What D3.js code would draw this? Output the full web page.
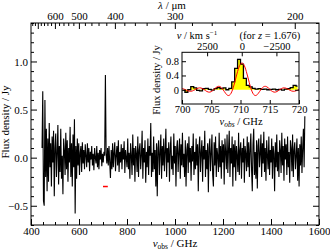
<!DOCTYPE html>
<html><head><meta charset="utf-8">
<script src="https://cdn.jsdelivr.net/npm/d3@7"></script>
<style>
body{margin:0;background:#fff}
svg{display:block}
text{font-family:"Liberation Serif","DejaVu Serif",serif;fill:#000}
</style>
</head><body>
<svg id="c" width="330" height="250"></svg>
<script>
// ---- data ----
const specStart = 446;      // GHz, first channel
const specStep = 3;         // GHz per channel
const specFlux = [
 0.10, 0.69,-0.45,-0.50, 0.60,-0.20, 0.30,-0.35, 0.20,
-0.25, 0.36,-0.10, 0.15,-0.30, 0.22,-0.05, 0.28,-0.40, 0.10,
 0.25,-0.20, 0.05, 0.34,-0.28, 0.12,-0.15, 0.30,-0.22, 0.02,
-0.38, 0.20, 0.08,-0.18, 0.26,-0.12, 0.18,-0.25, 0.10,-0.05,
 0.32,-0.20, 0.15,-0.30, 0.24,-0.10, 0.40,-0.58, 0.12,-0.22,
 0.20,-0.08, 0.15,-0.18, 0.05, 0.12,-0.15, 0.16,-0.06, 0.08,
-0.12, 0.14, 0.02,-0.10, 0.15,-0.05, 0.10,-0.14, 0.06,-0.02,
 0.12,-0.08, 0.04,-0.13, 0.10, 0.00,-0.06, 0.12,-0.10, 0.05,
-0.12, 0.08,-0.02, 0.10,-0.09, 0.04,-0.05, 0.06, 0.02, 0.86,
 0.04,-0.06, 0.10,-0.08, 0.12,-0.05,-0.21, 0.08,-0.12, 0.15,
-0.10, 0.05, 0.16,-0.14, 0.02, 0.12,-0.08, 0.18,-0.15, 0.06,
-0.05, 0.14,-0.12, 0.10,-0.02, 0.17,-0.16, 0.08, 0.00,-0.10,
 0.20,-0.12, 0.05,-0.22, 0.15, 0.02,-0.18, 0.24,-0.08, 0.10,
-0.25, 0.12, 0.04,-0.15, 0.22,-0.20, 0.08, 0.15,-0.12, 0.02,
 0.28,-0.22, 0.10,-0.05, 0.18,-0.26, 0.06,-0.10, 0.20,-0.18,
 0.12, 0.02, 0.36,-0.20, 0.05,-0.15, 0.22,-0.12, 0.08,-0.30,
 0.15,-0.40, 0.10, 0.18,-0.18, 0.05, 0.24,-0.22, 0.12,-0.08,
 0.20,-0.14, 0.06, 0.30,-0.20, 0.10,-0.05, 0.16,-0.25, 0.08,
 0.22,-0.12, 0.02,-0.18, 0.25,-0.06, 0.12,-0.30, 0.10, 0.18,
-0.15, 0.06, 0.20,-0.22, 0.14,-0.08, 0.26,-0.10, 0.04,-0.20,
 0.18,-0.30, 0.08, 0.15,-0.16, 0.22,-0.05, 0.10,-0.24, 0.12,
-0.04, 0.25,-0.18, 0.06,-0.12, 0.20,-0.08, 0.14,-0.35, 0.10,
 0.22,-0.15, 0.05, 0.18,-0.25, 0.12,-0.02, 0.28,-0.20, 0.08,
-0.12, 0.15,-0.36, 0.10, 0.20,-0.14, 0.04, 0.24,-0.18,-0.30,
 0.16,-0.08, 0.22,-0.20, 0.10, 0.02,-0.15, 0.26,-0.10, 0.12,
-0.22, 0.18,-0.05, 0.14,-0.28, 0.20, 0.06,-0.12, 0.24,-0.16,
 0.08, 0.28,-0.20, 0.10,-0.06, 0.22,-0.30, 0.14,-0.10, 0.18,
-0.24, 0.12, 0.02,-0.15, 0.26,-0.18, 0.08, 0.16,-0.22, 0.10,
-0.05, 0.20,-0.26, 0.12, 0.04,-0.14, 0.22,-0.10, 0.16,-0.20,
 0.08, 0.25,-0.12,-0.35, 0.14, 0.30,-0.18, 0.06,-0.22, 0.18,
-0.32, 0.12, 0.20,-0.10, 0.04, 0.24,-0.20, 0.15,-0.06, 0.27,
-0.15, 0.10,-0.24, 0.18, 0.02,-0.12, 0.22,-0.18, 0.08,-0.05,
 0.20,-0.22, 0.12, 0.04,-0.35, 0.16,-0.10, 0.24,-0.14, 0.06,
-0.20, 0.18, 0.08,-0.16, 0.26,-0.08, 0.12,-0.24, 0.20,-0.02,
 0.14,-0.18, 0.22,-0.10, 0.06,-0.26, 0.18, 0.10,-0.14, 0.24,
-0.20, 0.08, 0.16,-0.12, 0.02, 0.20,-0.24, 0.10,-0.30, 0.14,
-0.08, 0.22,-0.16, 0.10, 0.30,-0.10, 0.43
];

const insetChanStart = 700, insetChanWidth = 0.5;
const insetFlux = [
-0.02,-0.07, 0.00, 0.09, 0.05,-0.02,-0.03, 0.03, 0.04, 0.01,
-0.01, 0.03, 0.06, 0.03, 0.05, 0.00, 0.04, 0.22, 0.60, 0.85,
 0.72, 0.32, 0.12, 0.08, 0.04, 0.02, 0.03, 0.01, 0.02, 0.00,
 0.01, 0.02, 0.00, 0.01,-0.01, 0.02, 0.03, 0.06, 0.12, 0.10
];

const modelStart = 700, modelStep = 0.25;
const modelFlux = [
 0.034, 0.024, 0.007,-0.012,-0.030,-0.041,-0.043,-0.035,-0.018, 0.005,
 0.027, 0.045, 0.053, 0.049, 0.032, 0.007,-0.022,-0.049,-0.065,-0.067,
-0.053,-0.025, 0.013, 0.052, 0.082, 0.096, 0.088, 0.057, 0.007,-0.053,
-0.111,-0.152,-0.162,-0.133,-0.059, 0.054, 0.199, 0.357, 0.510, 0.637,
 0.721, 0.750, 0.721, 0.637, 0.510, 0.357, 0.199, 0.054,-0.059,-0.133,
-0.162,-0.152,-0.111,-0.053, 0.007, 0.057, 0.088, 0.096, 0.082, 0.052,
 0.013,-0.025,-0.053,-0.067,-0.065,-0.049,-0.022, 0.007, 0.032, 0.049,
 0.053, 0.045, 0.027, 0.005,-0.018,-0.035,-0.043,-0.041,-0.030,-0.012,
 0.007
];

const markerRange = [700, 720], markerLevel = -0.3;

const xTicks = [400, 600, 800, 1000, 1200, 1400, 1600];
const xMinor = [450, 500, 550, 650, 700, 750, 850, 900, 950, 1050, 1100, 1150, 1250, 1300, 1350, 1450, 1500, 1550];
const yTicks = [-0.5, 0.0, 0.5, 1.0];
const yMinor = [-0.7, -0.6, -0.4, -0.3, -0.2, -0.1, 0.1, 0.2, 0.3, 0.4, 0.6, 0.7, 0.8, 0.9, 1.1, 1.2, 1.3, 1.4];
const lambdaMajor = [700, 600, 500, 400, 300, 200];
const lambdaLabels = [600, 500, 400, 300, 200];
const lambdaMinor = [740, 720, 680, 660, 640, 620, 580, 560, 540, 520, 480, 460, 440, 420, 380, 360, 340, 320, 280, 260, 240, 220];
const insetXTicks = [700, 705, 710, 715, 720];
const insetYTicks = [0, 0.4, 0.8];
const velTicks = [2500, 0, -2500];
const cKms = 299792.458;           // km/s  (also um*GHz)
const restFreq = 1900.537, redshift = 1.676;

// ---- chart ----
const svg = d3.select('#c');
const L = 31, R = 319, T = 23, B = 225;
const x = d3.scaleLinear().domain([400, 1600]).range([L, R]);
const y = d3.scaleLinear().domain([-0.7, 1.4]).range([B, T]);

svg.append('clipPath').attr('id', 'mclip').append('rect')
  .attr('x', L).attr('y', T).attr('width', R - L).attr('height', B - T);

svg.append('path').datum(specFlux)
  .attr('clip-path', 'url(#mclip)')
  .attr('fill', 'none').attr('stroke', '#000').attr('stroke-width', 1.1)
  .attr('d', d3.line().x((d, i) => x(specStart + i * specStep)).y(d => y(d)));

svg.append('line')
  .attr('x1', x(markerRange[0])).attr('x2', x(markerRange[1]))
  .attr('y1', y(markerLevel)).attr('y2', y(markerLevel))
  .attr('stroke', '#ff0000').attr('stroke-width', 1.5);

function styleAxis(g, fs) {
  g.select('.domain').remove();
  g.selectAll('line').attr('stroke', '#000').attr('stroke-width', 1);
  g.selectAll('text').attr('font-size', fs).attr('font-family', '"Liberation Serif",serif').attr('fill', '#000');
}
const MJ = 6, MN = 3;
const fmt1 = d3.format('.1f');

// bottom
svg.append('g').attr('transform', `translate(0,${B})`)
  .call(d3.axisBottom(x).tickValues(xTicks).tickSize(-MJ).tickPadding(2).tickFormat(d3.format('d')))
  .call(g => styleAxis(g, 11));
svg.append('g').attr('transform', `translate(0,${B})`)
  .call(d3.axisBottom(x).tickValues(xMinor).tickSize(-MN).tickFormat(''))
  .call(g => styleAxis(g, 11));
// left
svg.append('g').attr('transform', `translate(${L},0)`)
  .call(d3.axisLeft(y).tickValues(yTicks).tickSize(-MJ).tickPadding(3).tickFormat(fmt1))
  .call(g => styleAxis(g, 11));
svg.append('g').attr('transform', `translate(${L},0)`)
  .call(d3.axisLeft(y).tickValues(yMinor).tickSize(-MN).tickFormat(''))
  .call(g => styleAxis(g, 11));
// right
svg.append('g').attr('transform', `translate(${R},0)`)
  .call(d3.axisRight(y).tickValues(yTicks).tickSize(-MJ).tickFormat(''))
  .call(g => styleAxis(g, 11));
svg.append('g').attr('transform', `translate(${R},0)`)
  .call(d3.axisRight(y).tickValues(yMinor).tickSize(-MN).tickFormat(''))
  .call(g => styleAxis(g, 11));
// top (wavelength)
const lamToNu = l => cKms / l;
svg.append('g').attr('transform', `translate(0,${T})`)
  .call(d3.axisTop(x).tickValues(lambdaMajor.map(lamToNu)).tickSize(-MJ).tickPadding(3)
    .tickFormat(d => { const l = Math.round(cKms / d); return lambdaLabels.includes(l) ? String(l) : ''; }))
  .call(g => styleAxis(g, 11));
svg.append('g').attr('transform', `translate(0,${T})`)
  .call(d3.axisTop(x).tickValues(lambdaMinor.map(lamToNu)).tickSize(-MN).tickFormat(''))
  .call(g => styleAxis(g, 11));

svg.append('rect').attr('x', L).attr('y', T).attr('width', R - L).attr('height', B - T)
  .attr('fill', 'none').attr('stroke', '#000').attr('stroke-width', 1);

// titles
const tb = svg.append('text').attr('x', 175).attr('y', 246.5).attr('text-anchor', 'middle').attr('font-size', 11);
tb.append('tspan').attr('font-style', 'italic').text('ν');
tb.append('tspan').attr('font-size', 7.5).attr('dy', 2).text('obs');
tb.append('tspan').attr('dy', -2).text(' / GHz');

const tt = svg.append('text').attr('x', 172).attr('y', 9).attr('text-anchor', 'middle').attr('font-size', 11);
tt.append('tspan').attr('font-style', 'italic').text('λ');
tt.append('tspan').text(' / μm');

svg.append('text').attr('transform', 'translate(9,122) rotate(-90)')
  .attr('text-anchor', 'middle').attr('font-size', 11).text('Flux density / Jy');

// ---- inset ----
const IL = 182, IR = 299, IT = 52.3, IB = 104;
const ix = d3.scaleLinear().domain([700, 720]).range([IL, IR]);
const iy = d3.scaleLinear().domain([-0.4, 1.05]).range([IB, IT]);
const ins = svg.append('g');
ins.append('rect').attr('x', IL).attr('y', IT).attr('width', IR - IL).attr('height', IB - IT).attr('fill', '#fff');
svg.append('clipPath').attr('id', 'iclip').append('rect')
  .attr('x', IL).attr('y', IT).attr('width', IR - IL).attr('height', IB - IT);
const chX = (d, i) => ix(insetChanStart + (i + 0.5) * insetChanWidth);
ins.append('path').datum(insetFlux).attr('clip-path', 'url(#iclip)')
  .attr('fill', '#ffff00').attr('stroke', 'none')
  .attr('d', d3.area().curve(d3.curveStep).x(chX).y0(iy(0)).y1(d => iy(d)));
ins.append('path').datum(insetFlux).attr('clip-path', 'url(#iclip)')
  .attr('fill', 'none').attr('stroke', '#000').attr('stroke-width', 1.3)
  .attr('d', d3.line().curve(d3.curveStep).x(chX).y(d => iy(d)));
ins.append('path').datum(modelFlux).attr('clip-path', 'url(#iclip)')
  .attr('fill', 'none').attr('stroke', '#ff0000').attr('stroke-width', 1)
  .attr('d', d3.line().curve(d3.curveCatmullRom).x((d, i) => ix(modelStart + i * modelStep)).y(d => iy(d)));

const IMJ = 4;
ins.append('g').attr('transform', `translate(0,${IB})`)
  .call(d3.axisBottom(ix).tickValues(insetXTicks).tickSize(-IMJ).tickPadding(1.5).tickFormat(d3.format('d')))
  .call(g => styleAxis(g, 10.5));
ins.append('g').attr('transform', `translate(${IL},0)`)
  .call(d3.axisLeft(iy).tickValues(insetYTicks).tickSize(-IMJ).tickPadding(3).tickFormat(d => d === 0 ? '0' : fmt1(d)))
  .call(g => styleAxis(g, 10.5));
ins.append('g').attr('transform', `translate(${IR},0)`)
  .call(d3.axisRight(iy).tickValues(insetYTicks).tickSize(-IMJ).tickFormat(''))
  .call(g => styleAxis(g, 10.5));
const nu0 = restFreq / (1 + redshift);
const velToNu = v => nu0 * (1 - v / cKms);
ins.append('g').attr('transform', `translate(0,${IT})`)
  .call(d3.axisTop(ix).tickValues(velTicks.map(velToNu)).tickSize(-IMJ).tickPadding(2)
    .tickFormat(d => d3.format('d')(Math.round(cKms * (1 - d / nu0) / 100) * 100)))
  .call(g => styleAxis(g, 10.5));
ins.append('rect').attr('x', IL).attr('y', IT).attr('width', IR - IL).attr('height', IB - IT)
  .attr('fill', 'none').attr('stroke', '#000').attr('stroke-width', 1);

const iv = ins.append('text').attr('x', 197).attr('y', 39).attr('text-anchor', 'middle').attr('font-size', 10.5);
iv.append('tspan').attr('font-style', 'italic').text('v');
iv.append('tspan').text(' / km s');
iv.append('tspan').attr('font-size', 7).attr('dy', -4).text('−1');
const iz = ins.append('text').attr('x', 270).attr('y', 39).attr('text-anchor', 'middle').attr('font-size', 10.5);
iz.append('tspan').text('(for ');
iz.append('tspan').attr('font-style', 'italic').text('z');
iz.append('tspan').text(' = 1.676)');

const ib = ins.append('text').attr('x', 241).attr('y', 125).attr('text-anchor', 'middle').attr('font-size', 10.5);
ib.append('tspan').attr('font-style', 'italic').text('ν');
ib.append('tspan').attr('font-size', 7.5).attr('font-style', 'italic').attr('dy', 2).text('obs');
ib.append('tspan').attr('dy', -2).text(' / GHz');

ins.append('text').attr('transform', 'translate(160,80) rotate(-90)')
  .attr('text-anchor', 'middle').attr('font-size', 10.5).text('Flux density / Jy');
</script>
</body></html>
